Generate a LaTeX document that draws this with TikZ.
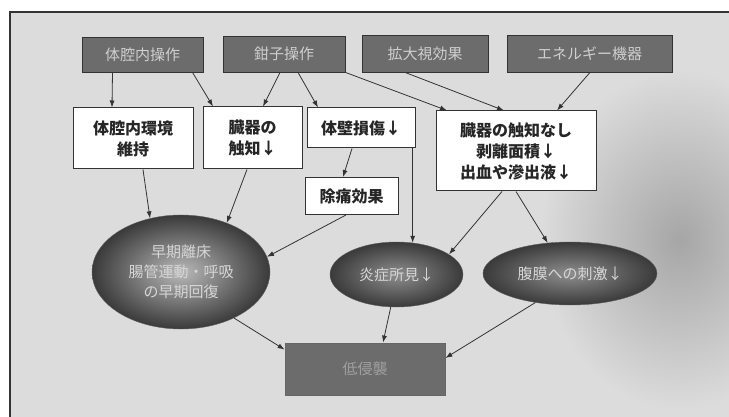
\documentclass[tikz,border=0pt]{standalone}
\usepackage{fontspec}
\newfontfamily\jp{Noto Sans CJK JP}
\usetikzlibrary{shapes.geometric,arrows.meta}
\definecolor{bgc}{HTML}{DCDCDC}
\definecolor{topfill}{HTML}{6C6C6C}
\definecolor{toptext}{HTML}{CFCFCF}
\definecolor{edge}{HTML}{333333}
\definecolor{elldark}{HTML}{3A3A3A}
\definecolor{elllight}{HTML}{8E8E8E}
\begin{document}
\begin{tikzpicture}[x=1pt,y=-1pt,
  topbox/.style={draw=edge, line width=0.8pt, fill=topfill, text=toptext,
    inner sep=0pt, font=\jp\fontsize{15}{19}\selectfont},
  wbox/.style={draw=edge, line width=1pt, fill=white, text=black!85,
    inner sep=0pt, align=center, font=\jp\bfseries\fontsize{16}{21}\selectfont},
  ellnode/.style={ellipse, draw=elldark!80, inner sep=0pt, inner color=elllight,
    outer color=elldark, text=toptext!85, align=center,
    font=\jp\fontsize{15}{20}\selectfont},
  arr/.style={draw=edge, line width=0.8pt, -{Latex[length=7pt,width=5pt]}}]
\useasboundingbox (0,0) rectangle (729,417);
\fill[white] (0,0) rectangle (729,417);
\fill[bgc] (10,12) rectangle (729,417);
\begin{scope}
\clip (10,12) rectangle (729,417);
\shade[inner color=gray!70, outer color=bgc] (680,240) ellipse [x radius=140, y radius=170];
\end{scope}
\draw[black!80, line width=1.4pt] (729,12) -- (10,12) -- (10,417);

% top row
\node[topbox, minimum width=121pt, minimum height=35pt] (topA) at (142.5,54.5) {体腔内操作};
\node[topbox, minimum width=122pt, minimum height=36pt] (topB) at (284,54) {鉗子操作};
\node[topbox, minimum width=126pt, minimum height=37pt] (topC) at (425,53.5) {拡大視効果};
\node[topbox, minimum width=165pt, minimum height=37pt] (topD) at (589.5,53.5) {エネルギー機器};

% second row
\node[wbox, minimum width=120pt, minimum height=61pt] (boxA) at (133,138.5) {体腔内環境\\維持};
\node[wbox, minimum width=99pt, minimum height=62pt] (boxB) at (252.5,138) {臓器の\\触知↓};
\node[wbox, minimum width=108pt, minimum height=40pt] (boxC) at (361,128) {体壁損傷↓};
\node[wbox, minimum width=93pt, minimum height=37pt] (boxD) at (351.5,196) {除痛効果};
\node[wbox, minimum width=160pt, minimum height=80pt] (boxE) at (516,151) {臓器の触知なし\\剥離面積↓\\出血や滲出液↓};

% ellipses
\node[ellnode, minimum width=178pt, minimum height=114pt, inner color=gray!55] (ellA) at (181,272) {早期離床\\腸管運動・呼吸\\の早期回復};
\node[ellnode, minimum width=133pt, minimum height=65pt] (ellB) at (396.5,274.5) {炎症所見↓};
\node[ellnode, minimum width=174pt, minimum height=63pt] (ellC) at (570,273.5) {腹膜への刺激↓};

% bottom
\node[topbox, draw=black!60, minimum width=160pt, minimum height=52pt, text=gray!75] (bot) at (365,369) {低侵襲};

% arrows
\draw[arr] ([xshift=-30pt]topA.south) -- ([xshift=-21pt]boxA.north);
\draw[arr] ([xshift=50pt]topA.south) -- ([xshift=-39.5pt]boxB.north);
\draw[arr] ([xshift=-4pt]topB.south) -- ([xshift=10.5pt]boxB.north);
\draw[arr] ([xshift=14pt]topB.south) -- ([xshift=-43pt]boxC.north);
\draw[arr] (topB.south east) -- ([xshift=-69pt]boxE.north);
\draw[arr] ([xshift=-20pt]topC.south) -- ([xshift=-12pt]boxE.north);
\draw[arr] ([xshift=0.5pt]topD.south) -- ([xshift=41pt]boxE.north);
\draw[arr] ([xshift=-9pt]boxC.south) -- ([xshift=-8.5pt]boxD.north);
\draw[arr] (boxC.south -| ellB.63) -- (ellB.63);
\draw[arr] ([xshift=10pt]boxA.south) -- (ellA.120);
\draw[arr] ([xshift=-5.5pt]boxB.south) -- (ellA.47);
\draw[arr] ([xshift=-5.5pt]boxD.south) -- (ellA.10);
\draw[arr] ([xshift=-14pt]boxE.south) -- (ellB.21);
\draw[arr] (boxE.south) -- (ellC.126);
\draw[arr] (ellA.-41) -- ([yshift=-7pt]bot.north west);
\draw[arr] (ellB.-100) -- ([xshift=18pt]bot.north);
\draw[arr] (ellC.-140) -- ([yshift=11pt]bot.east);
\end{tikzpicture}
\end{document}
